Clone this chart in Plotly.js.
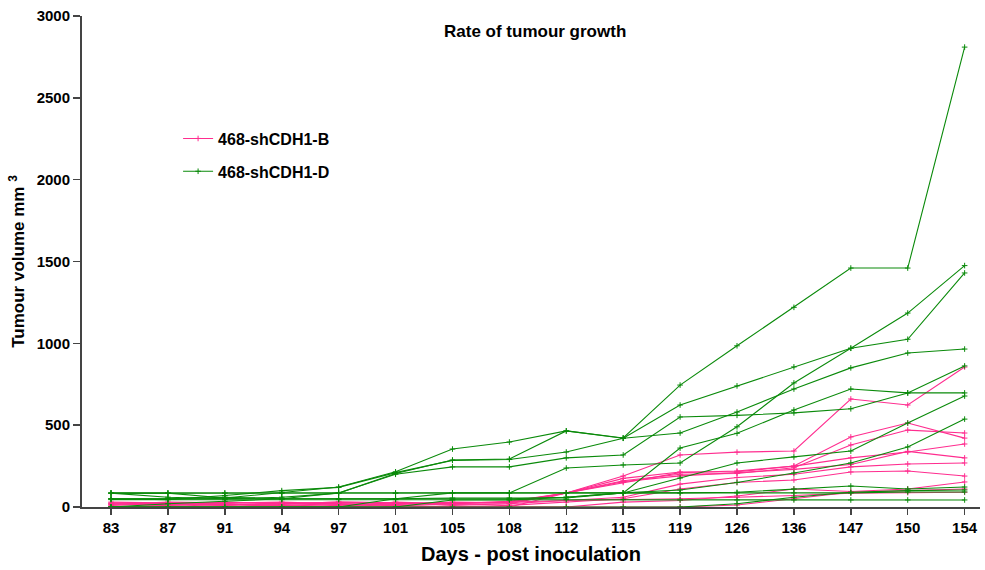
<!DOCTYPE html>
<html>
<head>
<meta charset="utf-8">
<script src="https://cdn.plot.ly/plotly-3.0.1.min.js"></script>
<style>html,body{margin:0;padding:0;background:#fff;}#chart{width:985px;height:570px;}</style>
</head>
<body>
<div id="chart"></div>
<script>
const days = ["83","87","91","94","97","101","105","108","112","115","119","126","136","147","150","154"];
const yTicks = [0,500,1000,1500,2000,2500,3000];

// 468-shCDH1-B (pink)
const B1 = [20,15,10,25,20,10,0,0,86,189,318,335,342,660,623,855];
const B2 = [30,25,20,0,10,15,20,30,86,175,214,215,250,428,513,421];
const B3 = [0,10,30,20,30,25,10,20,86,160,200,205,240,379,470,452];
const B4 = [15,30,25,30,20,20,30,25,86,150,210,220,250,300,336,385];
const B5 = [0,0,20,15,0,30,20,35,86,155,190,210,230,260,340,300];
const B6 = [25,20,10,20,30,25,15,20,40,60,140,180,200,245,263,269];
const B7 = [0,0,0,10,20,0,0,10,30,50,110,150,165,214,220,189];
const B8 = [20,10,20,0,0,10,0,0,0,30,40,67,110,95,110,153];
const B9 = [0,0,0,0,0,0,0,0,0,0,0,12,50,90,100,110];
const B10 = [10,20,15,10,15,20,25,30,40,45,50,60,70,85,88,90];

// 468-shCDH1-D (green)
const D1 = [85,85,55,90,122,215,354,397,465,422,745,985,1220,1460,1460,2810];
const D2 = [50,45,70,100,120,210,285,290,336,420,623,740,856,970,1185,1475];
const D3 = [85,85,85,85,85,85,86,86,238,257,269,490,758,970,1025,1430];
const D4 = [85,60,50,60,85,205,287,293,465,420,452,580,721,850,941,965];
const D5 = [0,20,35,50,86,200,245,245,300,318,550,560,575,600,697,862];
const D6 = [50,50,50,50,50,50,86,86,86,86,360,450,593,721,697,697];
const D7 = [50,50,60,50,50,50,50,50,60,86,177,269,306,342,513,678];
const D8 = [0,0,0,0,0,0,43,43,60,86,104,150,208,269,367,537];
const D9 = [85,85,85,85,85,85,86,86,86,86,86,90,110,128,110,122];
const D10 = [0,0,0,0,0,50,55,55,55,86,86,86,86,86,92,92];
const D11 = [45,45,45,45,45,45,45,45,45,45,43,43,43,43,43,43];
const D12 = [0,0,0,0,0,0,0,0,0,0,0,20,60,90,100,104];

const groupB = [B1,B2,B3,B4,B5,B6,B7,B8,B9,B10];
const groupD = [D1,D2,D3,D4,D5,D6,D7,D8,D9,D10,D11,D12];
const pink = "#ff2d8f";
const green = "#0a8a0a";

function mk(vals, color, name, show, group){
  return {
    x: days, y: vals, type: "scatter", mode: "lines+markers",
    name: name, legendgroup: group, showlegend: show,
    line: {color: color, width: 1.1},
    marker: {symbol: "cross-thin", size: 4, line: {color: color, width: 1}, color: color}
  };
}
const traces = [];
groupB.forEach((v,i)=>traces.push(mk(v, pink, "468-shCDH1-B", i===0, "B")));
groupD.forEach((v,i)=>traces.push(mk(v, green, "468-shCDH1-D", i===0, "D")));

const font = {family: "Liberation Sans, Arial, sans-serif", color: "#000"};
const layout = {
  width: 985, height: 570,
  margin: {l: 82, r: 5, t: 16, b: 63},
  paper_bgcolor: "#fff", plot_bgcolor: "#fff",
  showlegend: true,
  legend: {x: 0.107, y: 0.785, xanchor: "left", yanchor: "top", bgcolor: "rgba(0,0,0,0)",
    font: {family: font.family, size: 16, color: "#000", weight: "bold"}, tracegroupgap: 9, traceorder: "grouped"},
  xaxis: {
    type: "category", categoryorder: "array", categoryarray: days,
    range: [-0.51, 15.27], showgrid: false, zeroline: false,
    showline: true, linecolor: "#444", linewidth: 2,
    ticks: "outside", ticklen: 6, tickcolor: "#444", tickwidth: 1.5,
    tickfont: {family: font.family, size: 15, color: "#000", weight: "bold"},
    title: {text: "Days - post inoculation", font: {family: font.family, size: 20, color: "#000", weight: "bold"}, standoff: 12}
  },
  yaxis: {
    range: [0, 3000], tickvals: yTicks, ticktext: yTicks.map(String),
    showgrid: false, zeroline: false,
    showline: true, linecolor: "#444", linewidth: 2,
    ticks: "outside", ticklen: 7, tickcolor: "#444", tickwidth: 1.5,
    tickfont: {family: font.family, size: 15, color: "#000", weight: "bold"},
    title: {text: "Tumour volume mm <sup>3</sup>", font: {family: font.family, size: 17, color: "#000", weight: "bold"}, standoff: 8}
  },
  annotations: [{
    text: "Rate of tumour growth", xref: "paper", yref: "paper",
    x: 0.504, y: 0.969, xanchor: "center", yanchor: "middle", showarrow: false,
    font: {family: font.family, size: 17, color: "#000", weight: "bold"}
  }]
};
Plotly.newPlot("chart", traces, layout, {displayModeBar: false, staticPlot: true});
</script>
</body>
</html>
